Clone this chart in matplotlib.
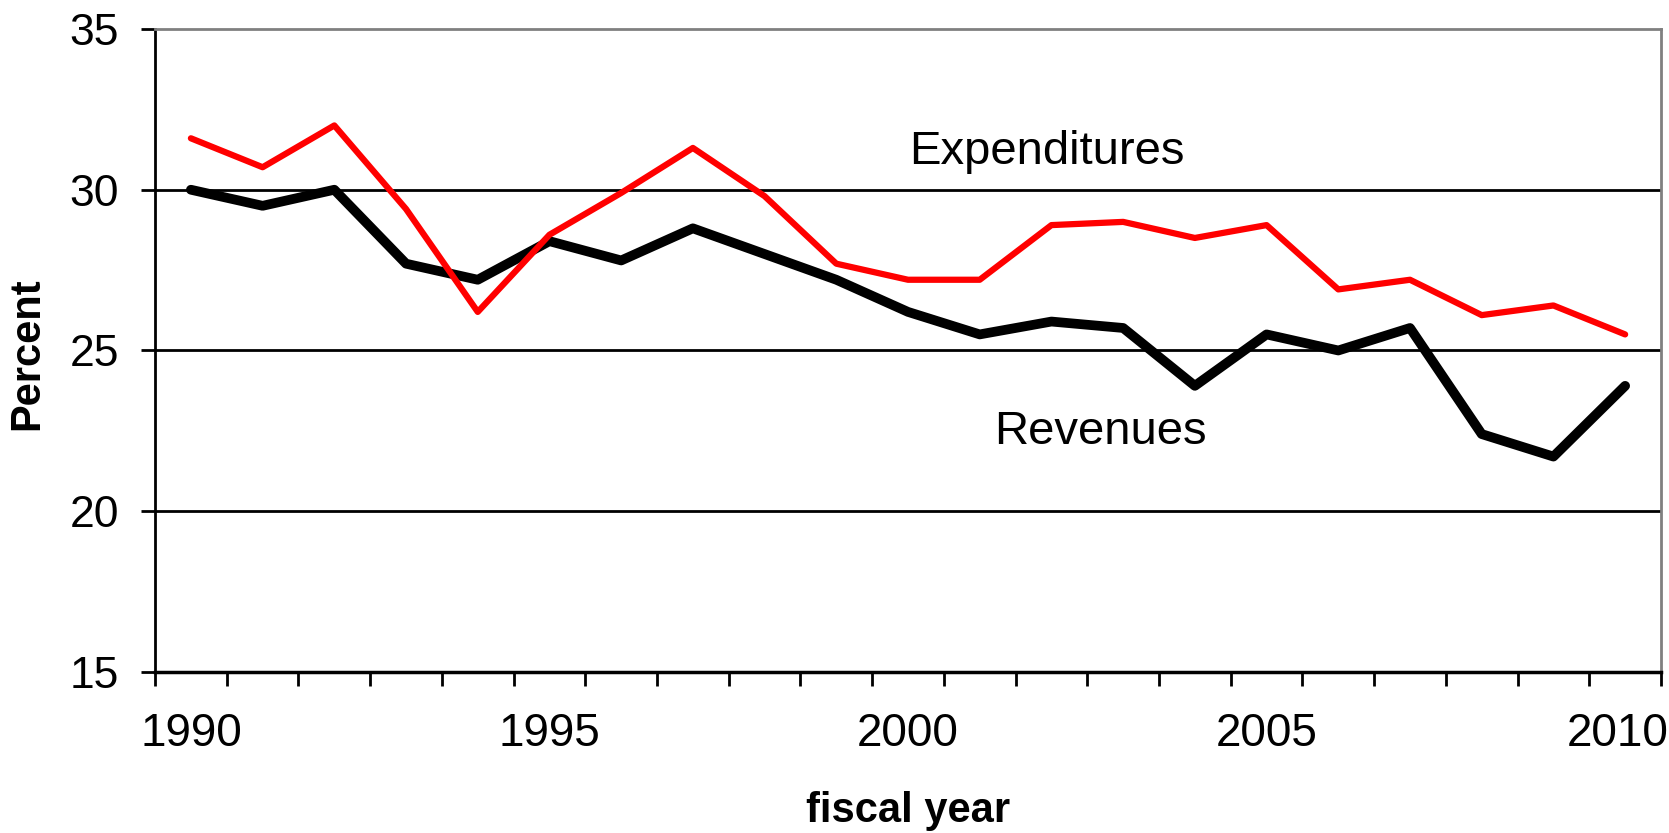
import matplotlib
matplotlib.use("Agg")
import matplotlib.pyplot as plt
from matplotlib.transforms import ScaledTranslation

# fiscal years and shares (percent)
years = list(range(1990, 2011))
expenditures = [31.6, 30.7, 32.0, 29.4, 26.2, 28.6, 29.9, 31.3, 29.8, 27.7, 27.2,
                27.2, 28.9, 29.0, 28.5, 28.9, 26.9, 27.2, 26.1, 26.4, 25.5]
revenues = [30.0, 29.5, 30.0, 27.7, 27.2, 28.4, 27.8, 28.8, 28.0, 27.2, 26.2,
            25.5, 25.9, 25.7, 23.9, 25.5, 25.0, 25.7, 22.4, 21.7, 23.9]
label_years = [1990, 1995, 2000, 2005, 2010]
y_ticks = [15, 20, 25, 30, 35]

plt.rcParams['font.family'] = ['Liberation Sans', 'DejaVu Sans']

fig = plt.figure(figsize=(16.69, 8.33), dpi=100)
ax = fig.add_axes([0.0929, 0.1933, 0.9023, 0.7719])

x = list(range(len(years)))

# horizontal grid lines (inner ticks only)
for v in y_ticks[1:-1]:
    ax.axhline(v, color='black', lw=2, zorder=1)

ax.plot(x, revenues, color='black', lw=7, solid_capstyle='round', zorder=3)
ax.plot(x, expenditures, color='#ff0000', lw=4.5, solid_capstyle='round', zorder=4)

ax.set_xlim(-0.5, len(years) - 0.5)
ax.set_ylim(y_ticks[0], y_ticks[-1])

# category axis: labels at points, tick marks between categories
ax.set_xticks([years.index(y) for y in label_years])
ax.set_xticklabels([str(y) for y in label_years],
                   family=['Liberation Sans Narrow', 'Liberation Sans', 'DejaVu Sans'])
ax.set_xticks([i - 0.5 for i in range(len(years) + 1)], minor=True)
ax.tick_params(axis='x', which='major', length=0, pad=29, labelsize=33)
ax.tick_params(axis='x', which='minor', length=10, width=2, direction='out', color='black')

# last label is pulled in a bit so it fits, like the original
last = ax.get_xticklabels()[-1]
last.set_transform(last.get_transform() + ScaledTranslation(-0.07, 0, fig.dpi_scale_trans))

ax.set_yticks(y_ticks)
ax.tick_params(axis='y', which='major', length=10, width=2, direction='out', pad=16, labelsize=32)

ax.spines['left'].set_linewidth(2)
ax.spines['bottom'].set_linewidth(2.5)
ax.spines['top'].set_color('#808080')
ax.spines['right'].set_color('#808080')
ax.spines['top'].set_linewidth(2)
ax.spines['right'].set_linewidth(2)

ax.text(11.94, 30.79, 'Expenditures', fontsize=34, ha='center', va='baseline')
ax.text(12.69, 22.10, 'Revenues', fontsize=34, ha='center', va='baseline')

fig.text(27 / 1669, 1 - 354 / 833, 'Percent', rotation=90, fontsize=30,
         fontweight='bold', ha='center', va='center')
fig.text(908 / 1669, 1 - 811 / 833, 'fiscal year', fontsize=30,
         fontweight='bold', ha='center', va='center')

fig.savefig('out.png', dpi=100)
